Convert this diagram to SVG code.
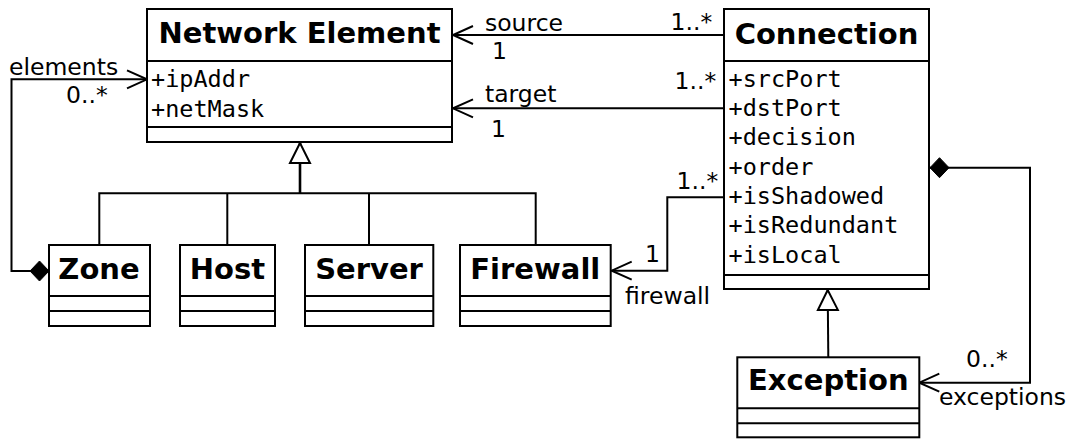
<svg xmlns="http://www.w3.org/2000/svg" width="1074" height="439" viewBox="0 0 1074 439">
<style>
.box{fill:#fff;stroke:#000;stroke-width:2}
.div{stroke:#000;stroke-width:2}
.title{font-family:"DejaVu Sans",sans-serif;font-weight:bold;font-size:29px;text-anchor:middle;fill:#000}
.attr{font-family:"DejaVu Sans Mono",monospace;font-size:23.5px;fill:#000}
.lbl{font-family:"DejaVu Sans",sans-serif;font-size:23.5px;fill:#000}
.conn{fill:none;stroke:#000;stroke-width:2}
</style>
<defs>
<marker id="open" markerUnits="userSpaceOnUse" orient="auto" overflow="visible" refX="0" refY="0" markerWidth="24" markerHeight="22">
<path d="M-20,-9 L0,0 L-20,9" fill="none" stroke="#000" stroke-width="2"/>
</marker>
<marker id="diamond" markerUnits="userSpaceOnUse" orient="auto" overflow="visible" refX="0" refY="0" markerWidth="20" markerHeight="22">
<path d="M0,0 L9.5,-10 L19,0 L9.5,10 Z" fill="#000" stroke="#000" stroke-width="1"/>
</marker>
<marker id="tri" markerUnits="userSpaceOnUse" orient="auto" overflow="visible" refX="0" refY="0" markerWidth="24" markerHeight="24">
<path d="M0,0 L-20,-10 L-20,10 Z" fill="#fff" stroke="#000" stroke-width="2"/>
</marker>
</defs>

<g id="connectors">
<path class="conn" d="M725,35 L453,35" marker-end="url(#open)"/>
<path class="conn" d="M725,108.3 L453,108.3" marker-end="url(#open)"/>
<path class="conn" d="M724,197.3 L667.3,197.3 L667.3,270.7 L611.7,270.7" marker-end="url(#open)"/>
<path class="conn" d="M49,271 L11.5,271 L11.5,79.3 L147,79.3" marker-start="url(#diamond)" marker-end="url(#open)"/>
<path class="conn" d="M930,167.7 L1030,167.7 L1030,382.7 L919.3,382.7" marker-start="url(#diamond)" marker-end="url(#open)"/>
<path class="conn" d="M99.3,245 L99.3,193.3 L535.7,193.3 L535.7,245"/>
<path class="conn" d="M227.3,245 L227.3,193.3"/>
<path class="conn" d="M369,245 L369,193.3"/>
<path class="conn" style="stroke-width:2.6" d="M300,193.3 L300,143" marker-end="url(#tri)"/>
<path class="conn" d="M828.3,357.3 L827.7,290" marker-end="url(#tri)"/>
<text class="lbl" x="9" y="75">elements</text>
<text class="lbl" x="66" y="103">0..*</text>
<text class="lbl" x="485" y="30.5">source</text>
<text class="lbl" x="492" y="59">1</text>
<text class="lbl" x="670.5" y="30">1..*</text>
<text class="lbl" x="485" y="102">target</text>
<text class="lbl" x="491" y="137">1</text>
<text class="lbl" x="674.5" y="89">1..*</text>
<text class="lbl" x="676.5" y="189">1..*</text>
<text class="lbl" x="645" y="261.7">1</text>
<text class="lbl" x="625" y="304">firewall</text>
<text class="lbl" x="966" y="367.3">0..*</text>
<text class="lbl" x="939" y="405">exceptions</text>
</g>

<g id="network-element">
<rect class="box" x="147" y="9" width="305" height="133"/>
<line class="div" x1="147" y1="61" x2="452" y2="61"/>
<line class="div" x1="147" y1="127" x2="452" y2="127"/>
<text class="title" x="299.5" y="43.3">Network Element</text>
<text class="attr" x="151" y="87">+ipAddr</text>
<text class="attr" x="151" y="116.5">+netMask</text>
</g>

<g id="connection">
<rect class="box" x="724" y="9" width="205" height="280"/>
<line class="div" x1="724" y1="61" x2="929" y2="61"/>
<line class="div" x1="724" y1="275" x2="929" y2="275"/>
<text class="title" x="826.5" y="44.3">Connection</text>
<text class="attr" x="728.5" y="86.7">+srcPort</text>
<text class="attr" x="728.5" y="116">+dstPort</text>
<text class="attr" x="728.5" y="145.3">+decision</text>
<text class="attr" x="728.5" y="174.6">+order</text>
<text class="attr" x="728.5" y="204">+isShadowed</text>
<text class="attr" x="728.5" y="233.3">+isRedundant</text>
<text class="attr" x="728.5" y="262.6">+isLocal</text>
</g>

<g id="zone">
<rect class="box" x="49" y="245" width="101" height="81"/>
<line class="div" x1="49" y1="296" x2="150" y2="296"/>
<line class="div" x1="49" y1="311" x2="150" y2="311"/>
<text class="title" x="99" y="279.3">Zone</text>
</g>

<g id="host">
<rect class="box" x="180" y="245" width="95" height="81"/>
<line class="div" x1="180" y1="296" x2="275" y2="296"/>
<line class="div" x1="180" y1="311" x2="275" y2="311"/>
<text class="title" x="227.5" y="279.3">Host</text>
</g>

<g id="server">
<rect class="box" x="305" y="245" width="128.3" height="81"/>
<line class="div" x1="305" y1="296" x2="433.3" y2="296"/>
<line class="div" x1="305" y1="311" x2="433.3" y2="311"/>
<text class="title" x="369" y="279.3">Server</text>
</g>

<g id="firewall">
<rect class="box" x="460" y="245" width="150.7" height="81"/>
<line class="div" x1="460" y1="296" x2="610.7" y2="296"/>
<line class="div" x1="460" y1="311" x2="610.7" y2="311"/>
<text class="title" x="535.3" y="279.3">Firewall</text>
</g>

<g id="exception">
<rect class="box" x="737.3" y="357.3" width="182" height="80"/>
<line class="div" x1="737.3" y1="408.3" x2="919.3" y2="408.3"/>
<line class="div" x1="737.3" y1="423.3" x2="919.3" y2="423.3"/>
<text class="title" x="828.3" y="390">Exception</text>
</g>
</svg>
